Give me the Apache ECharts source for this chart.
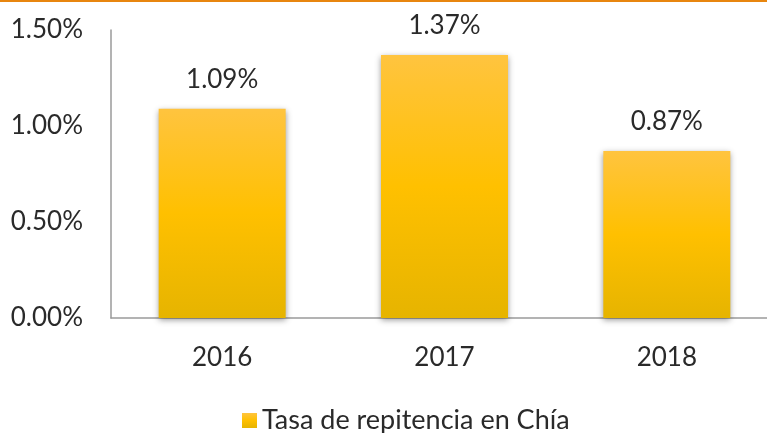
<!DOCTYPE html>
<html><head><meta charset="utf-8">
<script src="https://cdn.jsdelivr.net/npm/echarts@6/dist/echarts.min.js"></script>
<style>html,body{margin:0;padding:0;background:#fff;overflow:hidden;width:767px;height:433px}#c{width:780px;height:433px}</style>
</head><body><div id="c"></div>
<script>
const categories = ['2016', '2017', '2018'];
const values = [1.09, 1.37, 0.87];
const yTicks = [0, 0.5, 1.0, 1.5];
const seriesName = 'Tasa de repitencia en Chía';

const FONT = 'Lato';
const TXT = '#2a2a2a';
const barGrad = new echarts.graphic.LinearGradient(0, 0, 0, 1, [
  {offset: 0, color: '#FFC43F'},
  {offset: 0.5, color: '#FFC000'},
  {offset: 1, color: '#E6B400'}
]);
const chart = echarts.init(document.getElementById('c'));
chart.setOption({
  animation: false,
  graphic: [{type: 'rect', shape: {x: 0, y: 0, width: 780, height: 2}, style: {fill: '#E8860F'}}],
  grid: {left: 111, top: 30, width: 667, height: 288, containLabel: false},
  legend: {
    data: [seriesName], left: 237, top: 402, itemWidth: 15, itemHeight: 15, itemGap: 6,
    icon: 'rect',
    textStyle: {fontFamily: FONT, fontSize: 27, color: TXT}
  },
  xAxis: {
    type: 'category', data: categories,
    axisLine: {lineStyle: {color: '#9a9a9a', width: 1.5}},
    axisTick: {show: false},
    axisLabel: {fontFamily: FONT, fontSize: 26, color: TXT, margin: 27}
  },
  yAxis: {
    type: 'value', min: yTicks[0], max: yTicks[yTicks.length - 1], interval: 0.5,
    axisLine: {show: true, lineStyle: {color: '#9a9a9a', width: 1.5}},
    axisTick: {show: false},
    splitLine: {show: false},
    axisLabel: {fontFamily: FONT, fontSize: 26, color: TXT, margin: 28,
      formatter: v => v.toFixed(2) + '%'}
  },
  series: [{
    name: seriesName, type: 'bar', data: values, barWidth: 127,
    itemStyle: {color: barGrad, shadowBlur: 6, shadowColor: 'rgba(0,0,0,0.4)', shadowOffsetY: 2},
    label: {show: true, position: 'top', distance: 16, fontFamily: FONT, fontSize: 26, color: TXT,
      formatter: p => p.value.toFixed(2) + '%'}
  }]
});
</script></body></html>
